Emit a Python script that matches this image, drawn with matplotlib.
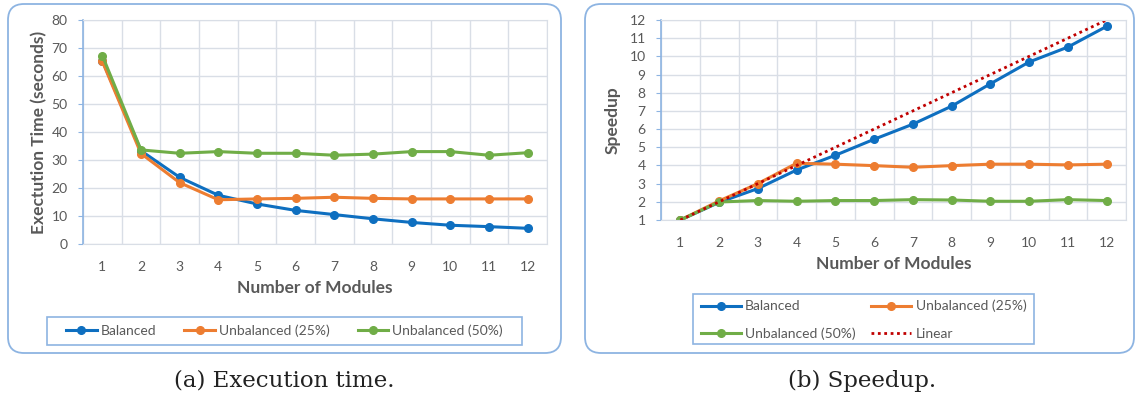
import numpy as np
import matplotlib
matplotlib.use("Agg")
import matplotlib.pyplot as plt
from matplotlib.patches import FancyBboxPatch, Rectangle

# data
modules = list(range(1, 13))

time_balanced = [65.5, 33.3, 23.8, 17.4, 14.3, 12.0, 10.5, 9.0, 7.7, 6.7, 6.2, 5.6]
time_unbal25 = [65.2, 32.3, 21.9, 15.8, 16.1, 16.3, 16.7, 16.3, 16.1, 16.1, 16.1, 16.1]
time_unbal50 = [67.3, 33.6, 32.4, 33.0, 32.4, 32.4, 31.7, 32.1, 33.0, 33.0, 31.7, 32.6]

speed_balanced = [1.0, 1.97, 2.73, 3.75, 4.56, 5.44, 6.27, 7.26, 8.49, 9.69, 10.51, 11.65]
speed_unbal25 = [1.0, 2.05, 3.0, 4.12, 4.07, 3.99, 3.90, 3.99, 4.07, 4.07, 4.03, 4.07]
speed_unbal50 = [1.0, 1.99, 2.07, 2.03, 2.07, 2.07, 2.12, 2.10, 2.03, 2.03, 2.12, 2.07]
speed_linear = modules

labels = ["Balanced", "Unbalanced (25%)", "Unbalanced (50%)", "Linear"]

BLUE = "#0E6FC0"
ORANGE = "#ED7D31"
GREEN = "#70AD47"
RED = "#C00000"
GRID = "#D9DEE6"
SPINE = "#8DB4E2"
TXT = "#595959"
FONT = "Lato"

W, H = 1136, 403
fig = plt.figure(figsize=(W / 100, H / 100), dpi=100)


def rect(x0, y0, x1, y1):
    # pixel box (top-left origin) -> figure fraction
    return [x0 / W, 1 - y1 / H, (x1 - x0) / W, (y1 - y0) / H]


# rounded panel frames
for x0, x1 in [(8, 561), (585, 1134)]:
    p = FancyBboxPatch((x0 / 100, (H - 353) / 100), (x1 - x0) / 100, 3.49,
                       boxstyle="round,pad=0,rounding_size=0.16",
                       transform=fig.dpi_scale_trans, fc="white",
                       ec=SPINE, lw=1.3, zorder=-2)
    fig.patches.append(p)


def style_axes(ax):
    ax.set_xlim(0.5, 12.5)
    ax.set_xticks(modules)
    ax.set_xticks(np.arange(0.5, 13, 1), minor=True)
    ax.grid(True, which="minor", axis="x", color=GRID, lw=1)
    ax.grid(True, which="major", axis="y", color=GRID, lw=1)
    ax.tick_params(axis="x", which="both", length=0, pad=12, labelsize=10,
                   labelcolor=TXT)
    ax.tick_params(axis="y", length=3.5, color=SPINE, pad=7.5, labelsize=10,
                   labelcolor=TXT)
    for lab in ax.get_xticklabels() + ax.get_yticklabels():
        lab.set_fontfamily(FONT)
    for s in ["top", "right", "bottom"]:
        ax.spines[s].set_color(GRID)
    ax.spines["left"].set_color(SPINE)
    ax.spines["left"].set_linewidth(1.2)
    ax.set_axisbelow(True)
    ax.patch.set_alpha(0)


kw = dict(lw=2.2, marker="o", ms=5.5)
lab_kw = dict(fontsize=12.5, fontweight="bold", color=TXT, family=FONT)

# (a) execution time
ax1 = fig.add_axes(rect(83, 20, 547, 244))
h1 = ax1.plot(modules, time_balanced, color=BLUE, **kw)
h2 = ax1.plot(modules, time_unbal25, color=ORANGE, **kw)
h3 = ax1.plot(modules, time_unbal50, color=GREEN, **kw)
ax1.set_ylim(0, 80)
ax1.set_yticks(range(0, 81, 10))
style_axes(ax1)
ax1.set_xlabel("Number of Modules", labelpad=5, **lab_kw)
ax1.set_ylabel("Exectution Time (seconds)", labelpad=3, **lab_kw)

# (b) speedup
ax2 = fig.add_axes(rect(661, 20, 1126, 220))
g1 = ax2.plot(modules, speed_balanced, color=BLUE, **kw)
g2 = ax2.plot(modules, speed_unbal25, color=ORANGE, **kw)
g3 = ax2.plot(modules, speed_unbal50, color=GREEN, **kw)
g4 = ax2.plot(modules, speed_linear, color=RED, lw=2, ls=(0, (1, 1.3)))
ax2.set_ylim(1, 12)
ax2.set_yticks(range(1, 13))
style_axes(ax2)
ax2.set_xlabel("Number of Modules", labelpad=5, **lab_kw)
ax2.set_ylabel("Speedup", labelpad=6, **lab_kw)

# legend frames
for x0, y0, x1, y1 in [(47, 317, 522, 345), (693, 294, 1034, 344)]:
    fig.patches.append(Rectangle((x0 / W, 1 - y1 / H), (x1 - x0) / W,
                                 (y1 - y0) / H, transform=fig.transFigure,
                                 fc="white", ec=SPINE, lw=1.2, zorder=-1))

leg_kw = dict(frameon=False, prop={"family": FONT, "size": 10},
              handletextpad=0.3, numpoints=1, labelcolor=TXT, loc="center")
fig.legend(h1 + h2 + h3, labels[:3], ncol=3, columnspacing=2.0,
           handlelength=2.2,
           bbox_to_anchor=((47 + 522) / 2 / W, 1 - 331 / H), **leg_kw)
# row-wise order like the reference
fig.legend(g1 + g3 + g2 + g4, [labels[0], labels[2], labels[1], labels[3]],
           ncol=2, columnspacing=1.1, labelspacing=1.1, handlelength=2.9,
           bbox_to_anchor=((693 + 1034) / 2 / W, 1 - 320 / H), **leg_kw)

# captions
fig.text(284 / W, 1 - 381 / H, "(a) Execution time.", ha="center",
         va="center", family="DejaVu Serif", fontsize=16.5, color="#222222")
fig.text(862 / W, 1 - 381 / H, "(b) Speedup.", ha="center",
         va="center", family="DejaVu Serif", fontsize=16.5, color="#222222")

fig.savefig("out.png", dpi=100)
